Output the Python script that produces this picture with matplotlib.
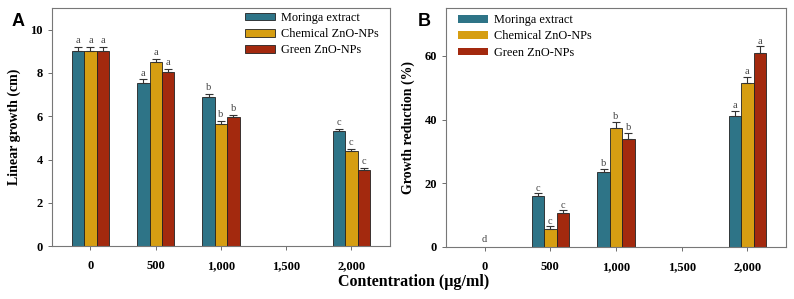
import numpy as np
import matplotlib
matplotlib.use("Agg")
import matplotlib.pyplot as plt

# concentrations (ug/ml)
conc_labels = ["0", "500", "1,000", "1,500", "2,000"]
series_names = ["Moringa extract", "Chemical ZnO-NPs", "Green ZnO-NPs"]
colors = ["#2e7487", "#d69e12", "#a3290e"]

# panel A: linear growth (cm); 1,500 has no data
growth_moringa = [9.0, 7.55, 6.9, np.nan, 5.3]
growth_chemical = [9.0, 8.5, 5.65, np.nan, 4.38]
growth_green = [9.0, 8.05, 5.95, np.nan, 3.5]
growth_err_moringa = [0.2, 0.15, 0.15, np.nan, 0.1]
growth_err_chemical = [0.2, 0.15, 0.12, np.nan, 0.12]
growth_err_green = [0.2, 0.15, 0.12, np.nan, 0.1]
growth_letters = [["a", "a", "a"], ["a", "a", "a"], ["b", "b", "b"], None, ["c", "c", "c"]]

# panel B: growth reduction (%)
red_moringa = [0.0, 16.0, 23.5, np.nan, 41.2]
red_chemical = [0.0, 5.7, 37.5, np.nan, 51.5]
red_green = [0.0, 10.6, 33.9, np.nan, 61.0]
red_err_moringa = [0.0, 0.8, 1.0, np.nan, 1.5]
red_err_chemical = [0.0, 0.8, 1.8, np.nan, 1.8]
red_err_green = [0.0, 0.9, 1.8, np.nan, 2.0]
red_letters = [["d"], ["c", "c", "c"], ["b", "b", "b"], None, ["a", "a", "a"]]

plt.rcParams["font.family"] = ["Liberation Serif", "DejaVu Serif"]

fig = plt.figure(figsize=(7.94, 2.99), dpi=100)
axA = fig.add_axes([0.0655, 0.177, 0.4255, 0.796])
axB = fig.add_axes([0.5617, 0.174, 0.4283, 0.799])

x = np.arange(len(conc_labels))
width = 0.19
frame_col = "#777777"


def draw_panel(ax, values, errs, letters, ymax, yticks, ylabel, letter_off):
    for i, (vals, err) in enumerate(zip(values, errs)):
        pos = x + (i - 1) * width
        v = np.array(vals, dtype=float)
        lw = [0.0 if val == 0 else 0.6 for val in v]
        ax.bar(pos, v, width, color=colors[i], edgecolor="#222222",
               linewidth=lw, label=series_names[i], zorder=2)
        e = np.array(err, dtype=float)
        keep = e > 0
        ax.errorbar(pos[keep], v[keep], yerr=[np.zeros(keep.sum()), e[keep]],
                    fmt="none", ecolor="#333333", elinewidth=0.8, capsize=3,
                    capthick=0.8, zorder=3)
    for j, lets in enumerate(letters):
        if lets is None:
            continue
        if len(lets) == 1:
            ax.text(x[j], letter_off, lets[0], ha="center", va="bottom",
                    fontsize=7.5, color="#444444")
            continue
        for i, lt in enumerate(lets):
            top = values[i][j] + errs[i][j]
            ax.text(x[j] + (i - 1) * width, top + letter_off * 0.3, lt,
                    ha="center", va="bottom", fontsize=7.5, color="#444444")
    ax.set_xlim(-0.59, 4.59)
    ax.set_ylim(0, ymax)
    ax.set_xticks(x)
    ax.set_xticklabels(conc_labels)
    ax.set_yticks(yticks)
    ax.tick_params(axis="both", direction="out", length=3, width=0.6,
                   colors="#555555", labelcolor="black", labelsize=9)
    for lab in ax.get_xticklabels() + ax.get_yticklabels():
        lab.set_fontweight("bold")
    ax.tick_params(axis="x", pad=7)
    for sp in ax.spines.values():
        sp.set_color(frame_col)
        sp.set_linewidth(0.8)
    ax.set_ylabel(ylabel, fontsize=10, fontweight="bold", labelpad=7)


draw_panel(axA,
           [growth_moringa, growth_chemical, growth_green],
           [growth_err_moringa, growth_err_chemical, growth_err_green],
           growth_letters, 11, [0, 2, 4, 6, 8, 10], "Linear growth (cm)", 0.3)
draw_panel(axB,
           [red_moringa, red_chemical, red_green],
           [red_err_moringa, red_err_chemical, red_err_green],
           red_letters, 75, [0, 20, 40, 60], "Growth reduction (%)", 0.8)

axA.legend(loc="upper right", frameon=False, fontsize=8.8, handlelength=2.4,
           handleheight=0.6, labelspacing=0.35, borderaxespad=0.1,
           handletextpad=0.5, bbox_to_anchor=(0.985, 1.01))
axB.legend(loc="upper left", frameon=False, fontsize=8.8, handlelength=2.4,
           handleheight=0.6, labelspacing=0.35, borderaxespad=0.1,
           handletextpad=0.5, bbox_to_anchor=(0.018, 1.0))

fig.text(0.014, 0.957, "A", fontsize=13, fontweight="bold",
         family="Liberation Sans", va="top")
fig.text(0.526, 0.957, "B", fontsize=13, fontweight="bold",
         family="Liberation Sans", va="top")
fig.text(0.521, 0.03, "Contentration (\u00b5g/ml)", ha="center", va="bottom",
         fontsize=11.5, fontweight="bold")

fig.savefig("out.png", dpi=100)
